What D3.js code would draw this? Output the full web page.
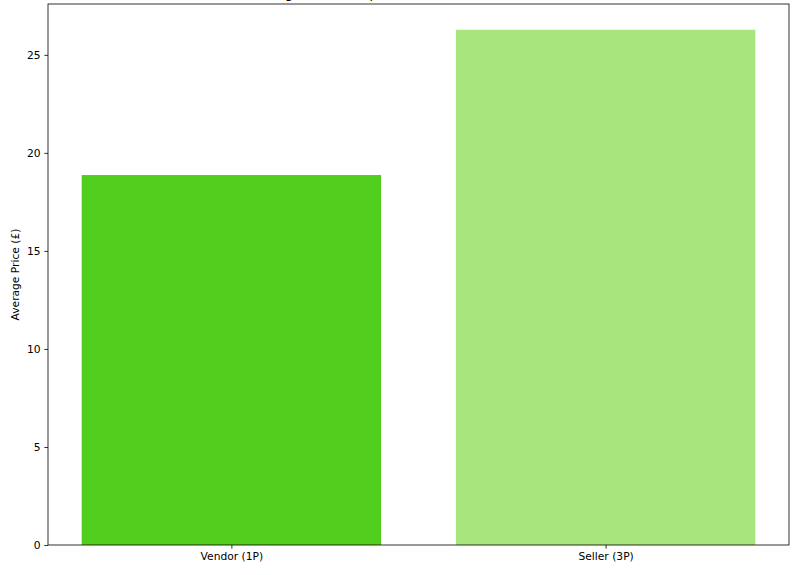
<!DOCTYPE html>
<html>
<head>
<meta charset="utf-8">
<script src="https://cdn.jsdelivr.net/npm/d3@7"></script>
<style>
  body { margin: 0; background: #fff; }
  text { font-family: "DejaVu Sans", sans-serif; fill: #000; }
</style>
</head>
<body>
<div id="chart"></div>
<script>
// chart data
var categories = ["Vendor (1P)", "Seller (3P)"];
var avg_price = [18.87, 26.28];
var bar_colours = ["#52ce1e", "#a8e57c"];
var y_ticks = [0, 5, 10, 15, 20, 25];
var chart_title = "Average Price Comparison: Vendor (1P) vs Seller (3P)";

var W = 800, H = 575;
var m = {left: 48, right: 11, top: 4, bottom: 30};
var pw = W - m.left - m.right, ph = H - m.top - m.bottom;

var svg = d3.select("#chart").append("svg").attr("width", W).attr("height", H);
var g = svg.append("g").attr("transform", "translate(" + m.left + "," + m.top + ")");

// x like matplotlib bar: positions 0..n-1, width 0.8, 5% margins
var n = categories.length;
var lo = -0.4, hi = n - 1 + 0.4, mg = (hi - lo) * 0.05;
var x = d3.scaleLinear().domain([lo - mg, hi + mg]).range([0, pw]);
var ymax = d3.max(avg_price) * 1.05;
var y = d3.scaleLinear().domain([0, ymax]).range([ph, 0]);

g.selectAll(".bar").data(avg_price).enter().append("rect")
    .attr("class", "bar")
    .attr("x", function (d, i) { return x(i - 0.4); })
    .attr("width", function (d, i) { return x(i + 0.4) - x(i - 0.4); })
    .attr("y", function (d) { return y(d); })
    .attr("height", function (d) { return y(0) - y(d); })
    .attr("fill", function (d, i) { return bar_colours[i]; });

// axes
var yAxis = d3.axisLeft(y).tickValues(y_ticks).tickSize(3.7).tickPadding(3.7);
var gy = g.append("g").call(yAxis);
var xAxis = d3.axisBottom(x).tickValues(d3.range(n))
    .tickFormat(function (i) { return categories[i]; }).tickSize(3.7).tickPadding(3.7);
var gx = g.append("g").attr("transform", "translate(0," + ph + ")").call(xAxis);
[gx, gy].forEach(function (a) {
    a.select(".domain").remove();
    a.selectAll("line").attr("stroke", "#000").attr("stroke-width", 0.8);
    a.selectAll("text").style("font-size", "10.7px").attr("fill", "#000");
});

// frame
g.append("rect").attr("width", pw).attr("height", ph)
    .attr("fill", "none").attr("stroke", "#000").attr("stroke-width", 0.8);

// labels
svg.append("text")
    .attr("transform", "translate(19," + (m.top + ph / 2) + ") rotate(-90)")
    .attr("text-anchor", "middle")
    .style("font-size", "10.7px")
    .text("Average Price (£)");

svg.append("text")
    .attr("x", m.left + pw / 2).attr("y", -2.3)
    .attr("text-anchor", "middle")
    .style("font-size", "12.8px")
    .text(chart_title);
</script>
</body>
</html>
